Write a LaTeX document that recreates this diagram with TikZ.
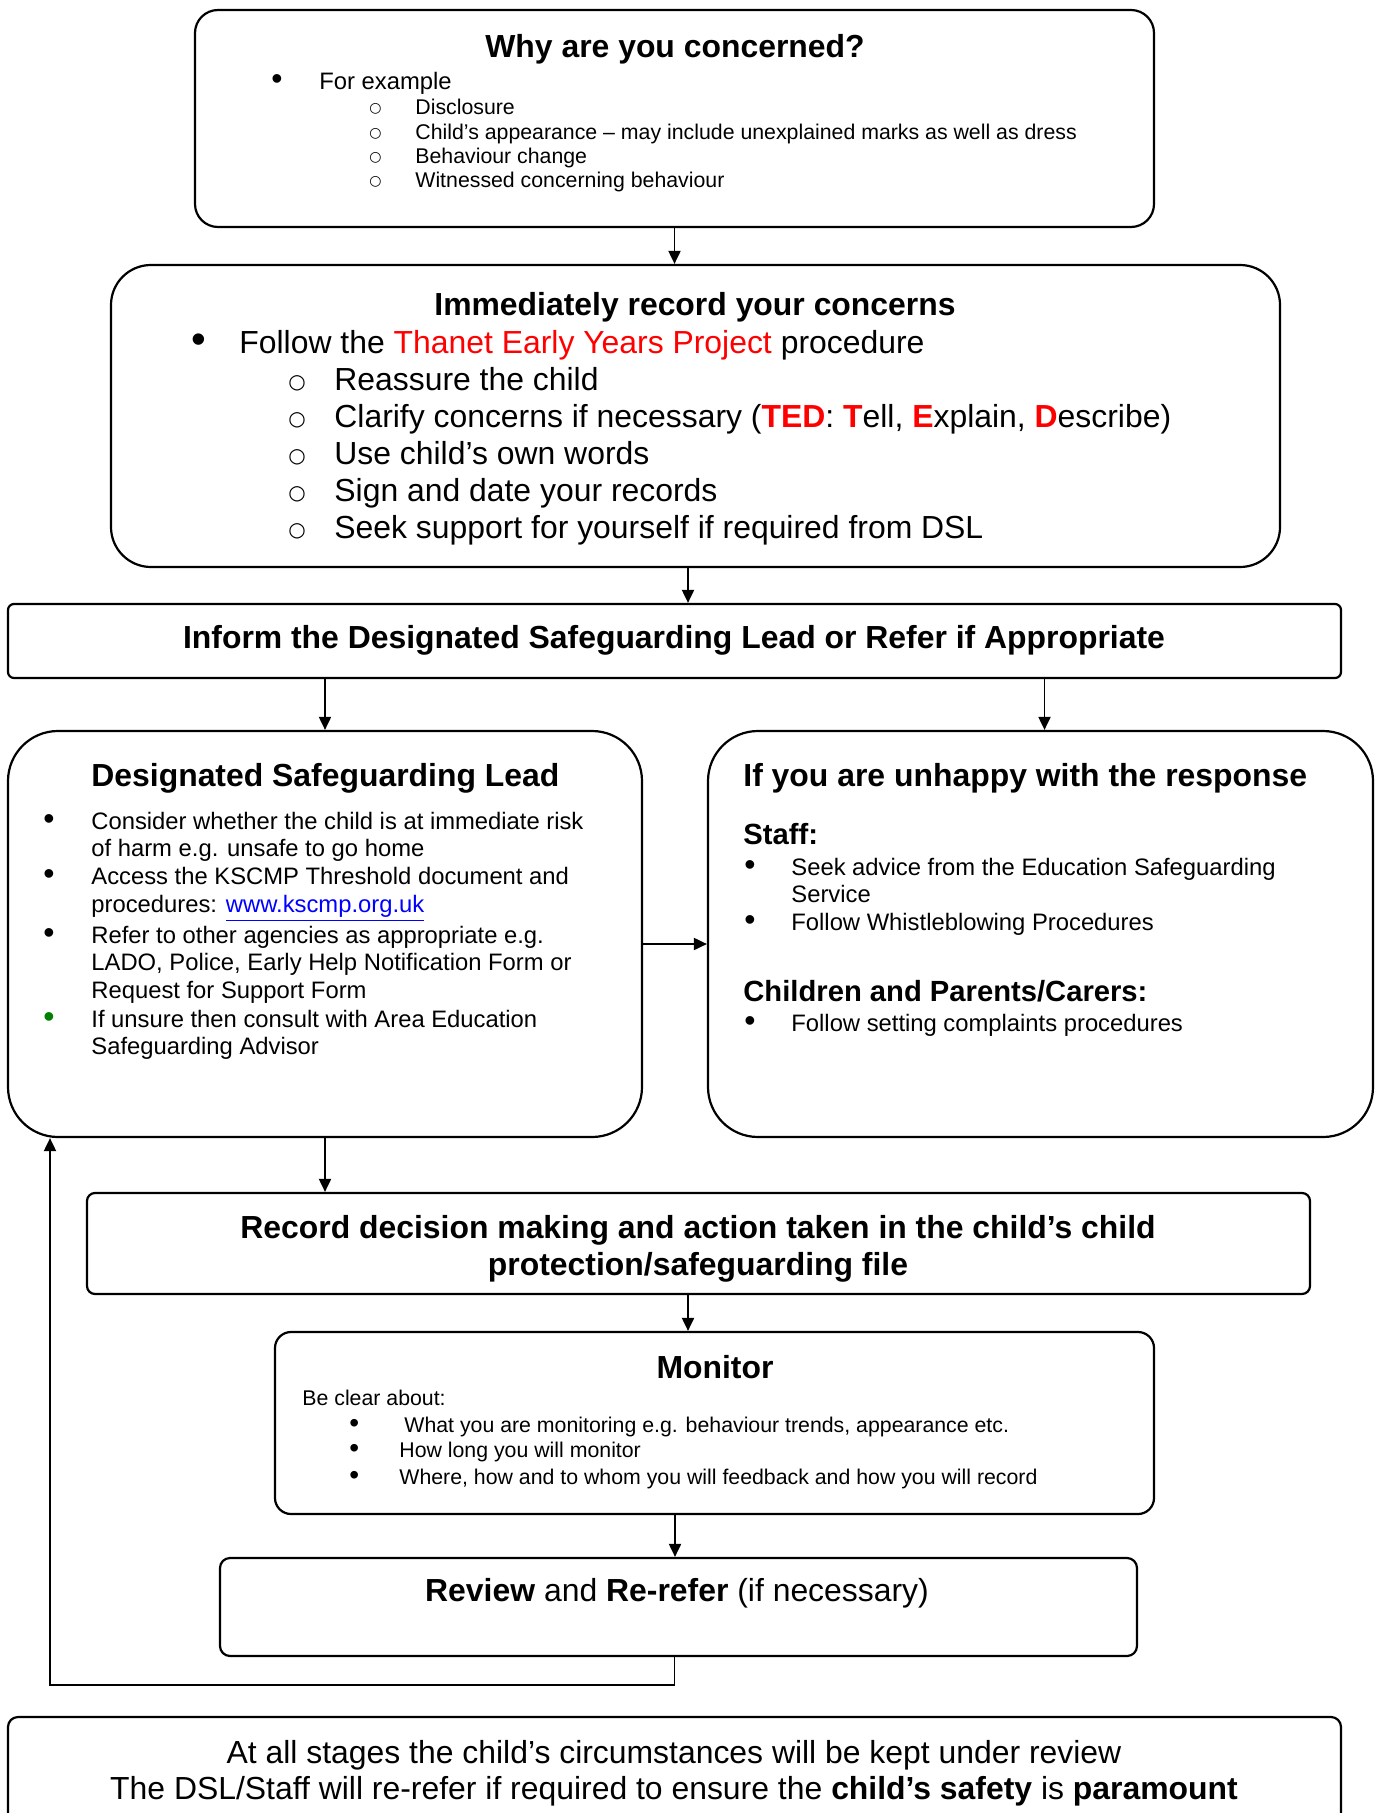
\documentclass[tikz,border=0pt]{standalone}
\usepackage{fontspec}
\setmainfont{Liberation Sans}
\newfontfamily\symf{DejaVu Sans}
\usetikzlibrary{arrows.meta}
\definecolor{tred}{RGB}{255,0,0}
\definecolor{tblue}{RGB}{0,0,255}
\definecolor{tgreen}{RGB}{0,128,0}
\begin{document}
\begin{tikzpicture}[x=0.5pt,y=-0.5pt,
  box/.style={draw=black, line width=1.1pt, inner sep=0pt},
  arr/.style={line width=0.95pt, -{Triangle[length=6.5pt,width=6pt]}},
  tx/.style={inner sep=0pt, anchor=base west},
  tc/.style={inner sep=0pt, anchor=base},
  f16/.style={font=\fontsize{15.95pt}{19pt}\selectfont},
  f16b/.style={font=\fontsize{15.95pt}{19pt}\selectfont\bfseries},
  f14b/.style={font=\fontsize{14.6pt}{17pt}\selectfont\bfseries},
  f12/.style={font=\fontsize{11.9pt}{14pt}\selectfont},
  f11/.style={font=\fontsize{10.65pt}{13pt}\selectfont},
  bul16/.style={font=\fontsize{21pt}{19pt}\selectfont},
  bul12/.style={font=\fontsize{16pt}{14pt}\selectfont},
  bul11/.style={font=\fontsize{14pt}{13pt}\selectfont},
  sub11/.style={font=\fontsize{7pt}{13pt}\symf},
  sub16/.style={font=\fontsize{10pt}{19pt}\symf},
]
\useasboundingbox (0,0) rectangle (1376,1813);
\fill[white] (0,0) rectangle (1376,1813);
\clip (0,0) rectangle (1376,1813);

% ---------- boxes ----------
\node[box, rounded corners=11.5pt, minimum width=479.5pt, minimum height=108.5pt] (b1) at (674.5,118.5) {};
\node[box, rounded corners=20pt, minimum width=584.5pt, minimum height=151pt] (b2) at (695.5,416) {};
\node[box, rounded corners=3pt, minimum width=666.5pt, minimum height=37pt] (b3) at (674.5,641) {};
\node[box, rounded corners=25pt, minimum width=317pt, minimum height=203pt] (b4) at (325,934) {};
\node[box, rounded corners=25pt, minimum width=332.5pt, minimum height=203pt] (b5) at (1040.5,934) {};
\node[box, rounded corners=4pt, minimum width=611.5pt, minimum height=50.5pt] (b6) at (698.5,1243.5) {};
\node[box, rounded corners=8pt, minimum width=439.5pt, minimum height=91pt] (b7) at (714.5,1423) {};
\node[box, rounded corners=5pt, minimum width=458.5pt, minimum height=49pt] (b8) at (678.5,1607) {};
\node[box, rounded corners=5pt, minimum width=666.5pt, minimum height=60pt] (b9) at (674.5,1777) {};

% ---------- connectors ----------
\draw[arr] (b1.south) -- (b1.south |- b2.north);
\draw[arr] ([xshift=-3.75pt]b2.south) -- ([xshift=-3.75pt]b2.south |- b3.north);
\draw[arr] (b4.north |- b3.south) -- (b4.north);
\draw[arr] ([xshift=2pt]b5.north |- b3.south) -- ([xshift=2pt]b5.north);
\draw[arr] ([yshift=-5pt]b4.east) -- ([yshift=-5pt]b4.east -| b5.west);
\draw[arr] (b4.south) -- (b4.south |- b6.north);
\draw[arr] ([xshift=-5.25pt]b6.south) -- ([xshift=-5.25pt]b6.south |- b7.north);
\draw[arr] ([xshift=-19.75pt]b7.south) -- ([xshift=-19.75pt]b7.south |- b8.north);
\coordinate (loopc) at (50,1685);
\draw[arr] ([xshift=-2pt]b8.south) |- (loopc) -- (loopc |- b4.south);

% ---------- box 1 ----------
\node[tc,f16b] (t1) at (675,58) {Why are you concerned?};
\node[tx,bul12] (t1bul) at (271,89.5) {•};
\node[tx,f12] (t1a) at (319,89.5) {For example};
\node[tx,sub11] (t1o1) at (369,113) {○};
\node[tx,f11] (t1b) at (415,115) {Disclosure};
\node[tx,sub11] (t1o2) at (369,137.5) {○};
\node[tx,f11] (t1c) at (415,139.5) {Child’s appearance – may include unexplained marks as well as dress};
\node[tx,sub11] (t1o3) at (369,161.5) {○};
\node[tx,f11] (t1d) at (415,163.5) {Behaviour change};
\node[tx,sub11] (t1o4) at (369,185.5) {○};
\node[tx,f11] (t1e) at (415,187.5) {Witnessed concerning behaviour};

% ---------- box 2 ----------
\node[tc,f16b] (t2) at (695,316) {Immediately record your concerns};
\node[tx,bul16] (t2bul) at (191,353) {•};
\node[tx,f16] (t2a) at (239,353) {Follow the \textcolor{tred}{Thanet Early Years Project} procedure};
\node[tx,sub16] (t2o1) at (288,388) {○};
\node[tx,f16] (t2b) at (334,390) {Reassure the child};
\node[tx,sub16] (t2o2) at (288,425) {○};
\node[tx,f16] (t2c) at (334,427) {Clarify concerns if necessary (\textcolor{tred}{\textbf{TED}}: \textcolor{tred}{\textbf{T}}ell, \textcolor{tred}{\textbf{E}}xplain, \textcolor{tred}{\textbf{D}}escribe)};
\node[tx,sub16] (t2o3) at (288,462) {○};
\node[tx,f16] (t2d) at (334,464) {Use child’s own words};
\node[tx,sub16] (t2o4) at (288,499) {○};
\node[tx,f16] (t2e) at (334,501) {Sign and date your records};
\node[tx,sub16] (t2o5) at (288,536) {○};
\node[tx,f16] (t2f) at (334,538) {Seek support for yourself if required from DSL};

% ---------- box 3 ----------
\node[tc,f16b] (t3) at (674,648) {Inform the Designated Safeguarding Lead or Refer if Appropriate};

% ---------- box 4 ----------
\node[tx,f16b] (t4) at (91,786) {Designated Safeguarding Lead};
\node[tx,bul12] (t4b1) at (43,829.5) {•};
\node[tx,f12] (t4a) at (91,829.5) {Consider whether the child is at immediate risk};
\node[tx,f12] (t4b) at (91,856.5) {of harm e.g. unsafe to go home};
\node[tx,bul12] (t4b2) at (43,884.5) {•};
\node[tx,f12] (t4c) at (91,884.5) {Access the KSCMP Threshold document and};
\node[tx,f12] (t4d) at (91,912.5) {procedures: \textcolor{tblue}{\underline{www.kscmp.org.uk}}};
\node[tx,bul12] (t4b3) at (43,943.5) {•};
\node[tx,f12] (t4e) at (91,943.5) {Refer to other agencies as appropriate e.g.};
\node[tx,f12] (t4f) at (91,970.5) {LADO, Police, Early Help Notification Form or};
\node[tx,f12] (t4g) at (91,998.5) {Request for Support Form};
\node[tx,bul12,text=tgreen] (t4b4) at (43,1027.5) {•};
\node[tx,f12] (t4h) at (91,1027.5) {If unsure then consult with Area Education};
\node[tx,f12] (t4i) at (91,1054.5) {Safeguarding Advisor};

% ---------- box 5 ----------
\node[tx,f16b] (t5) at (743,786) {If you are unhappy with the response};
\node[tx,f14b] (t5a) at (743,844) {Staff:};
\node[tx,bul12] (t5b1) at (744,875.5) {•};
\node[tx,f12] (t5b) at (791,875.5) {Seek advice from the Education Safeguarding};
\node[tx,f12] (t5c) at (791,902.5) {Service};
\node[tx,bul12] (t5b2) at (744,930.5) {•};
\node[tx,f12] (t5d) at (791,930.5) {Follow Whistleblowing Procedures};
\node[tx,f14b] (t5e) at (743,1001) {Children and Parents/Carers:};
\node[tx,bul12] (t5b3) at (744,1031.5) {•};
\node[tx,f12] (t5f) at (791,1031.5) {Follow setting complaints procedures};

% ---------- box 6 ----------
\node[tc,f16b] (t6a) at (698,1238) {Record decision making and action taken in the child’s child};
\node[tc,f16b] (t6b) at (698,1275) {protection/safeguarding file};

% ---------- box 7 ----------
\node[tc,f16b] (t7) at (715,1378) {Monitor};
\node[tx,f11] (t7a) at (302,1405.5) {Be clear about:};
\node[tx,bul11] (t7b1) at (349,1432.5) {•};
\node[tx,f11] (t7b) at (404,1432.5) {What you are monitoring e.g. behaviour trends, appearance etc.};
\node[tx,bul11] (t7b2) at (349,1457.5) {•};
\node[tx,f11] (t7c) at (399,1457.5) {How long you will monitor};
\node[tx,bul11] (t7b3) at (349,1484.5) {•};
\node[tx,f11] (t7d) at (399,1484.5) {Where, how and to whom you will feedback and how you will record};

% ---------- box 8 ----------
\node[tc,f16] (t8) at (677,1601) {\textbf{Review} and \textbf{Re-refer} (if necessary)};

% ---------- box 9 ----------
\node[tc,f16] (t9a) at (674,1763) {At all stages the child’s circumstances will be kept under review};
\node[tc,f16] (t9b) at (674,1799) {The DSL/Staff will re-refer if required to ensure the \textbf{child’s safety} is \textbf{paramount}};
\end{tikzpicture}
\end{document}
